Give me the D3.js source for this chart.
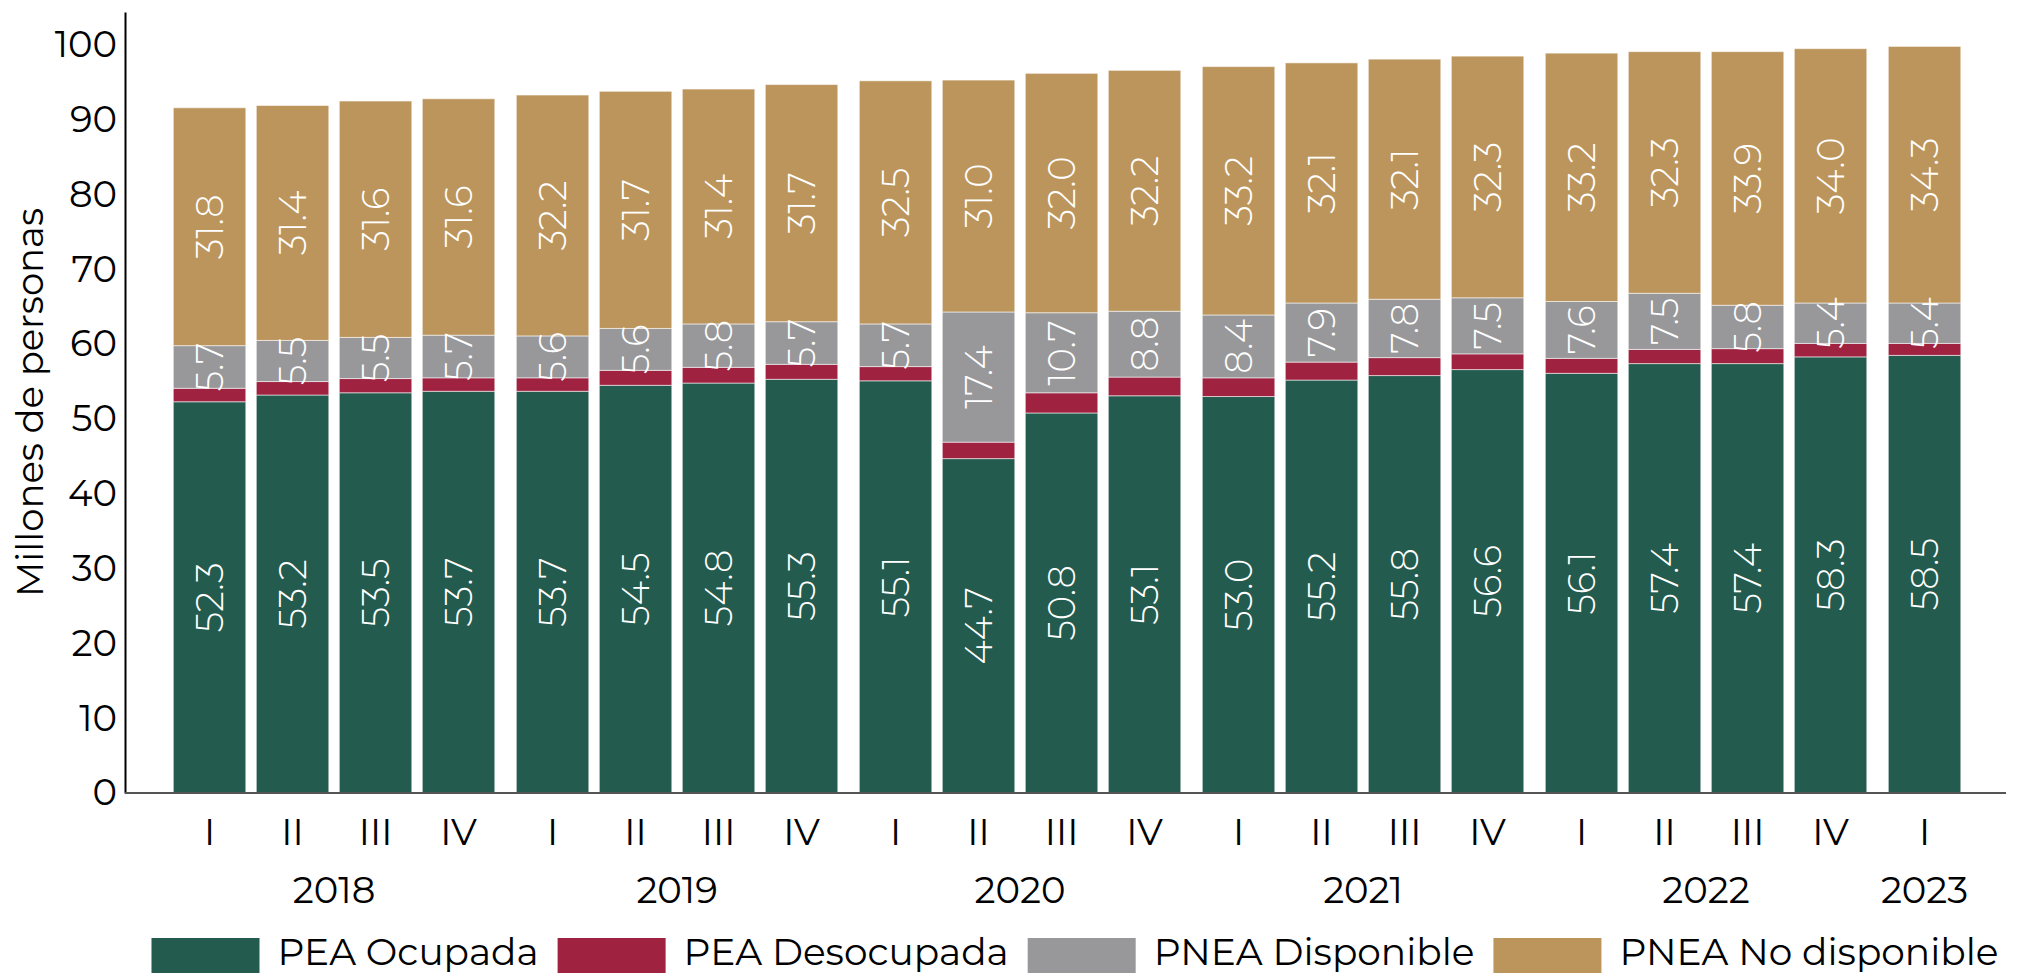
<!DOCTYPE html>
<html>
<head>
<meta charset="utf-8">
<script src="https://cdn.jsdelivr.net/npm/d3@7"></script>
<style>
  html, body { margin: 0; padding: 0; background: #ffffff; }
  svg { display: block; }
  text { font-family: Montserrat, "Open Sans", sans-serif; }
</style>
</head>
<body>
<svg id="chart" width="2018" height="976"></svg>
<script>
// ---------- DATA ----------
const quarters = ["I","II","III","IV","I","II","III","IV","I","II","III","IV","I","II","III","IV","I","II","III","IV","I"];
const barYears = ["2018","2018","2018","2018","2019","2019","2019","2019","2020","2020","2020","2020","2021","2021","2021","2021","2022","2022","2022","2022","2023"];
const yearLabels = ["2018","2019","2020","2021","2022","2023"];
const peaOcupada    = [52.3,53.2,53.5,53.7,53.7,54.5,54.8,55.3,55.1,44.7,50.8,53.1,53.0,55.2,55.8,56.6,56.1,57.4,57.4,58.3,58.5];
const peaDesocupada = [1.8,1.8,1.9,1.8,1.8,2.0,2.1,2.0,1.9,2.2,2.7,2.5,2.5,2.4,2.4,2.1,2.0,1.9,2.0,1.8,1.6];
const pneaDisponible = [5.7,5.5,5.5,5.7,5.6,5.6,5.8,5.7,5.7,17.4,10.7,8.8,8.4,7.9,7.8,7.5,7.6,7.5,5.8,5.4,5.4];
const pneaNoDisponible = [31.8,31.4,31.6,31.6,32.2,31.7,31.4,31.7,32.5,31.0,32.0,32.2,33.2,32.1,32.1,32.3,33.2,32.3,33.9,34.0,34.3];
const seriesNames = ["PEA Ocupada","PEA Desocupada","PNEA Disponible","PNEA No disponible"];
const seriesLabeled = [true, false, true, true];
const yTicks = [0,10,20,30,40,50,60,70,80,90,100];

// ---------- STYLE / LAYOUT ----------
const colors = ["#235B4E", "#9F2241", "#98989A", "#BC955C"];
const plot = { left: 125, right: 2006, top: 12, bottom: 793 };
const barW = 72.5;
const yearGap = 11 / 83;   // extra gap between years, in units of bar pitch

const svg = d3.select("#chart");

const rows = quarters.map((q, i) => ({
  i, q, year: barYears[i],
  "PEA Ocupada": peaOcupada[i],
  "PEA Desocupada": peaDesocupada[i],
  "PNEA Disponible": pneaDisponible[i],
  "PNEA No disponible": pneaNoDisponible[i]
}));

const yearIndex = d => yearLabels.indexOf(d.year);
const slot = d => d.i + yearIndex(d) * yearGap;
const lastSlot = slot(rows[rows.length - 1]);

const x = d3.scaleLinear().domain([0, lastSlot]).range([173.3, 1888.3]);
const y = d3.scaleLinear().domain([0, 104.4]).range([plot.bottom, plot.top]);

const stacked = d3.stack().keys(seriesNames)(rows);

// ---------- BARS ----------
const g = svg.append("g");
stacked.forEach((layer, k) => {
  g.append("g")
    .selectAll("rect")
    .data(layer)
    .join("rect")
    .attr("x", d => x(slot(d.data)))
    .attr("width", barW)
    .attr("y", d => y(d[1]))
    .attr("height", d => y(d[0]) - y(d[1]))
    .attr("fill", colors[k])
    .attr("stroke", "rgba(255,255,255,0.55)")
    .attr("stroke-width", 1);
});

// ---------- DATA LABELS ----------
stacked.forEach((layer, k) => {
  if (!seriesLabeled[k]) return;
  g.append("g")
    .selectAll("text")
    .data(layer)
    .join("text")
    .attr("transform", d => {
      const cx = x(slot(d.data)) + barW / 2;
      const cy = y((d[0] + d[1]) / 2);
      return `translate(${cx},${cy}) rotate(-90)`;
    })
    .attr("text-anchor", "middle")
    .attr("dominant-baseline", "central")
    .attr("fill", "#ffffff")
    .attr("font-size", 37)
    .attr("font-weight", 300)
    .text(d => (d[1] - d[0]).toFixed(1));
});

// ---------- Y AXIS ----------
const yAxis = d3.axisLeft(y).tickValues(yTicks).tickSize(0).tickSizeOuter(0).tickPadding(8);
const yg = svg.append("g").attr("transform", `translate(${plot.left},0)`).call(yAxis);
yg.select(".domain").attr("stroke", "#000").attr("stroke-width", 2);
yg.selectAll("text")
  .attr("font-size", 37)
  .attr("font-family", 'Montserrat, "Open Sans", sans-serif')
  .attr("fill", "#000")
  .attr("font-weight", 400);

// Y title
svg.append("text")
  .attr("transform", `translate(43,${(plot.top + plot.bottom) / 2}) rotate(-90)`)
  .attr("text-anchor", "middle")
  .attr("font-size", 37)
  .attr("fill", "#000")
  .text("Millones de personas");

// ---------- X AXIS ----------
svg.append("line")
  .attr("x1", plot.left).attr("x2", plot.right)
  .attr("y1", y(0)).attr("y2", y(0))
  .attr("stroke", "#555").attr("stroke-width", 2.2);

svg.append("g")
  .selectAll("text")
  .data(rows)
  .join("text")
  .attr("x", d => x(slot(d)) + barW / 2)
  .attr("y", 845)
  .attr("text-anchor", "middle")
  .attr("font-size", 37)
  .attr("fill", "#000")
  .text(d => d.q);

const yearCenters = yearLabels.map(yr => {
  const rs = rows.filter(r => r.year === yr);
  const a = x(slot(rs[0])), b = x(slot(rs[rs.length - 1])) + barW;
  return { yr, cx: (a + b) / 2 };
});
svg.append("g")
  .selectAll("text")
  .data(yearCenters)
  .join("text")
  .attr("x", d => d.cx)
  .attr("y", 903)
  .attr("text-anchor", "middle")
  .attr("font-size", 37)
  .attr("fill", "#000")
  .text(d => d.yr);

// ---------- LEGEND ----------
const lg = svg.append("g");
let lx = 151.5;
seriesNames.forEach((name, k) => {
  lg.append("rect")
    .attr("x", lx).attr("y", 938)
    .attr("width", 108).attr("height", 35)
    .attr("fill", colors[k]);
  lx += 108 + 18;
  const t = lg.append("text")
    .attr("x", lx).attr("y", 965)
    .attr("font-size", 37.5)
    .attr("fill", "#000")
    .text(name);
  lx += t.node().getComputedTextLength() + 19;
});
</script>
</body>
</html>
